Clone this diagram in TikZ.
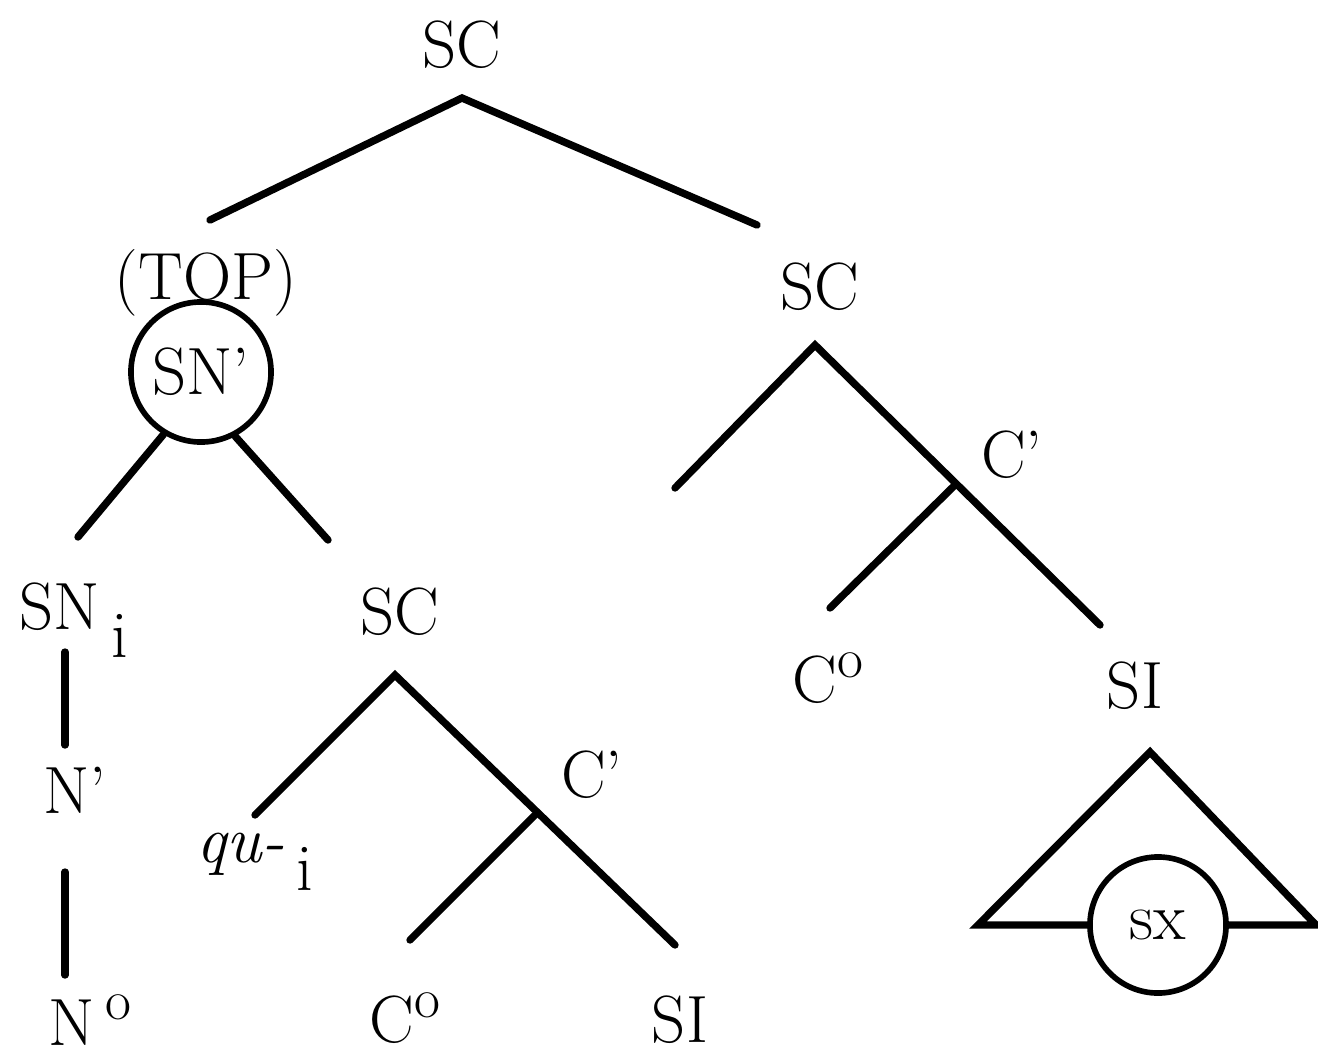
\documentclass[tikz,border=0pt]{standalone}
\usepackage{fontspec}
\usepackage{tikz}
\newcommand{\lowi}{\,\raisebox{-0.42em}{i}}
\newcommand{\upo}{\raisebox{0.38em}{\fontsize{16}{18}\selectfont o}}
\begin{document}
\begin{tikzpicture}[x=0.01cm, y=-0.01cm]
    \tikzset{lbl/.style={
      font=\fontsize{19}{22}\selectfont,
      inner sep=0pt},
      br/.style={line width=2.1pt, line cap=round},
      ring/.style={
      circle,
      draw,
      line width=1.6pt,
      inner sep=0pt,
      font=\fontsize{19}{22}\selectfont}}
    \useasboundingbox (0,0) rectangle (1318,1054);
    % top of the tree
    \node[lbl] at (462,45) (sc) {SC};
    \coordinate (sc-b) at (462,98);
    \coordinate (top-a) at (210,220);
    \coordinate (scr-a) at (757,225);
    \draw[br] (top-a) -- (sc-b) -- (scr-a);
    % left branch
    \node[lbl] at (206,283) (top) {(TOP)};
    \node[ring, minimum size=1.40cm] at (201,372) (snp) {SN'};
    \coordinate (sni-a) at (78,537);
    \coordinate (scl-a) at (328,540);
    \draw[br] (snp.-121) -- (sni-a);
    \draw[br] (snp.-62) -- (scl-a);
    \node[lbl] at (74,620) (sni) {SN\lowi};
    \coordinate (sni-b) at (65,652);
    \coordinate (np-a) at (65,745);
    \draw[br] (sni-b) -- (np-a);
    \node[lbl] at (75,790) (np) {N'};
    \coordinate (np-b) at (65,872);
    \coordinate (n0-a) at (65,975);
    \draw[br] (np-b) -- (n0-a);
    \node[lbl] at (90,1020) (n0) {N\,\upo};
    % embedded SC
    \node[lbl] at (400,612) (scl) {SC};
    \coordinate (scl-b) at (395,675);
    \coordinate (qu-a) at (255,815);
    \coordinate (cpl) at (535,815);
    \coordinate (col-a) at (410,940);
    \coordinate (sil-a) at (675,945);
    \draw[br] (qu-a) -- (scl-b) -- (sil-a);
    \draw[br] (cpl) -- (col-a);
    \node[lbl] at (592,775) (cpl-l) {C'};
    \node[lbl] at (255,862) (qu) {\itshape qu-\upshape\lowi};
    \node[lbl] at (405,1018) (col) {C\upo};
    \node[lbl] at (680,1020) (sil) {SI};
    % right branch
    \node[lbl] at (820,287) (scr) {SC};
    \coordinate (scr-b) at (815,345);
    \coordinate (spec-a) at (675,488);
    \coordinate (cpr) at (955,485);
    \coordinate (sir-a) at (1100,625);
    \coordinate (cor-a) at (830,608);
    \draw[br] (spec-a) -- (scr-b) -- (sir-a);
    \draw[br] (cpr) -- (cor-a);
    \node[lbl] at (1012,455) (cpr-l) {C'};
    \node[lbl] at (828,678) (cor) {C\upo};
    \node[lbl] at (1135,686) (sir) {SI};
    % triangle under SI
    \node[ring, minimum size=1.36cm] at (1158,925) (sx) {sx};
    \coordinate (tri-t) at (1150,752);
    \coordinate (tri-l) at (978,925);
    \coordinate (tri-r) at (1316,925);
    \draw[br, line cap=butt, line join=miter] (sx.180) -- (tri-l) -- (tri-t) -- (tri-r) -- (sx.0);
\end{tikzpicture}
\end{document}
